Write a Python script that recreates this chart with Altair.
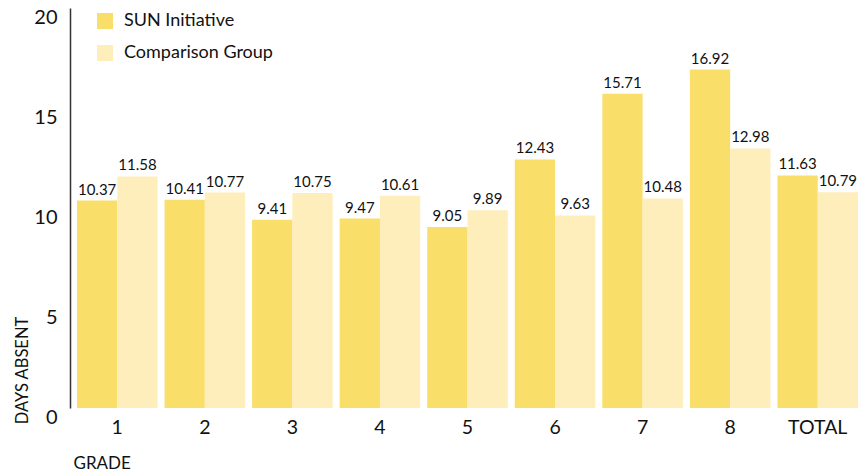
import altair as alt
import pandas as pd

grades = ["1", "2", "3", "4", "5", "6", "7", "8", "TOTAL"]
sun = [10.37, 10.41, 9.41, 9.47, 9.05, 12.43, 15.71, 16.92, 11.63]
comp = [11.58, 10.77, 10.75, 10.61, 9.89, 9.63, 10.48, 12.98, 10.79]
series = ["SUN Initiative", "Comparison Group"]
colors = ["#F9DF6A", "#FEEEBB"]

rows = []
for g, s, c in zip(grades, sun, comp):
    rows.append({"grade": g, "group": series[0], "days": s, "label": f"{s:.2f}"})
    rows.append({"grade": g, "group": series[1], "days": c, "label": f"{c:.2f}"})
df = pd.DataFrame(rows)

FONT = "Lato"

x = alt.X("grade:N", sort=grades,
          scale=alt.Scale(paddingInner=0.08, paddingOuter=0.04, align=1),
          axis=alt.Axis(title="GRADE", labelAngle=0, labelFontSize=19.5, labelColor="#111",
                        labelPadding=10, ticks=False, domain=False,
                        titleFontSize=17, titleFontWeight="normal", titleColor="#111",
                        titleAnchor="start", titleAlign="left", titleBaseline="middle",
                        titleX=3, titleY=55))
xo = alt.XOffset("group:N", sort=series)

base = alt.Chart(df)

bars = base.mark_bar().encode(
    x=x,
    xOffset=xo,
    y=alt.Y("days:Q", scale=alt.Scale(domain=[0, 20], nice=False),
            axis=alt.Axis(title="DAYS ABSENT", values=[0, 5, 10, 15, 20], grid=False,
                          ticks=False, labelFontSize=20, labelColor="#111", labelPadding=13,
                          labelOffset=9, domainColor="#333", domainWidth=1.5,
                          titleFontSize=16.5, titleFontWeight="normal", titleColor="#111",
                          titleAngle=-90, titleAlign="center", titleBaseline="middle",
                          titleX=-48, titleY=362)),
    color=alt.Color("group:N", sort=series,
                    scale=alt.Scale(domain=series, range=colors),
                    legend=alt.Legend(title=None, orient="none", legendX=26, legendY=4,
                                      symbolType="square", symbolSize=256,
                                      symbolStrokeWidth=0, labelFontSize=18,
                                      labelColor="#111", rowPadding=14, labelOffset=10)),
)

labels = base.mark_text(baseline="bottom", dy=-3, fontSize=15, color="#111", font=FONT).encode(
    x=x,
    xOffset=xo,
    y=alt.Y("days:Q"),
    text="label:N",
)

chart = (bars + labels).properties(
    width=788, height=400,
    padding={"left": 70, "top": 8, "right": 0, "bottom": 66},
    autosize=alt.AutoSizeParams(type="none"),
).configure(font=FONT).configure_view(stroke=None)

chart.save("out.html", embed_options={"renderer": "svg", "actions": False})
